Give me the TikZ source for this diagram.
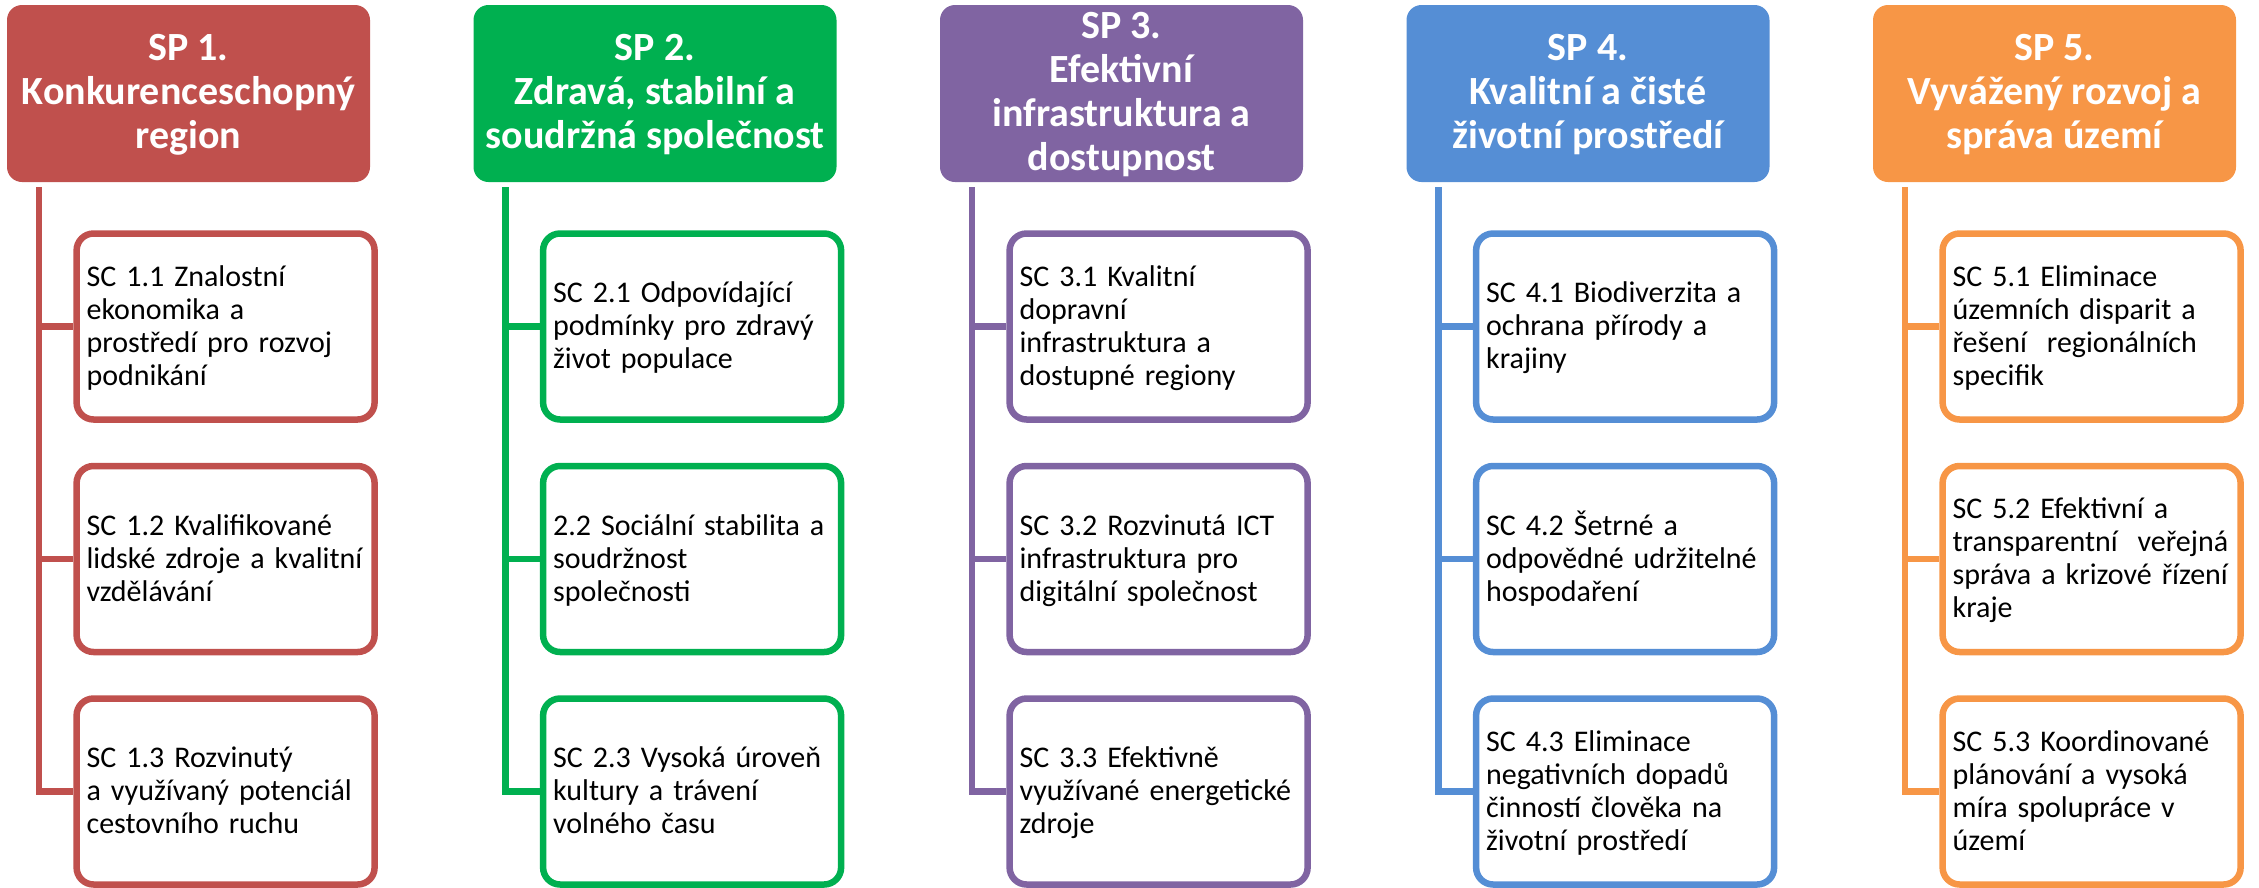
\documentclass[tikz,border=0pt]{standalone}
\usepackage{fontspec}
\setmainfont{Carlito}
\definecolor{cred}{HTML}{C0504D}
\definecolor{cgreen}{HTML}{00B050}
\definecolor{cpurple}{HTML}{8064A2}
\definecolor{cblue}{HTML}{558ED5}
\definecolor{corange}{HTML}{F79646}
\newcommand\boxtxt[1]{\rule{0pt}{27pt}#1\rule[-9pt]{0pt}{9pt}}
\newcommand\headtxt[1]{\rule{0pt}{33pt}#1\rule[-12pt]{0pt}{12pt}}
\tikzset{
  head/.style={fill=#1, draw=none, rounded corners=15pt, minimum width=363pt,
    minimum height=177pt, inner sep=0pt, align=center, text=white,
    font=\bfseries\fontsize{40}{44}\selectfont},
  sub/.style={draw=#1, line width=6.5pt, fill=white, rounded corners=17pt,
    minimum width=298pt, minimum height=186pt, text width=278pt,
    inner xsep=10pt, inner ysep=0pt, align=left,
    font=\fontsize{30}{33}\selectfont},
  conn/.style={draw=#1, line width=6.5pt},
}
\begin{document}
\begin{tikzpicture}[x=1pt,y=-1pt]
\useasboundingbox (0,0) rectangle (2259,887);
% ---------- column 1
\node[head=cred] (h1) at (188.5,93.5) {\headtxt{SP 1.\\Konkurenceschopný\\region}};
\node[sub=cred] (b11) at (225.6,326.5) {\boxtxt{SC 1.1 Znalostní\\ekonomika a\\prostředí pro rozvoj\\podnikání}};
\node[sub=cred] (b12) at (225.6,559) {\boxtxt{SC 1.2 Kvalifikované\\lidské zdroje a kvalitní\\vzdělávání}};
\node[sub=cred] (b13) at (225.6,791.5) {\boxtxt{SC 1.3 Rozvinutý\\a využívaný potenciál\\cestovního ruchu}};
\coordinate (t1) at (39,187);
\draw[conn=cred] (t1) -- (t1 |- b13.west) -- (b13.west);
\draw[conn=cred] (t1 |- b11.west) -- (b11.west);
\draw[conn=cred] (t1 |- b12.west) -- (b12.west);
% ---------- column 2
\node[head=cgreen] (h2) at (655,93.5) {\headtxt{SP 2.\\Zdravá, stabilní a\\soudržná společnost}};
\node[sub=cgreen] (b21) at (692.1,326.5) {\boxtxt{SC 2.1 Odpovídající\\podmínky pro zdravý\\život populace}};
\node[sub=cgreen] (b22) at (692.1,559) {\boxtxt{2.2 Sociální stabilita a\\soudržnost\\společnosti}};
\node[sub=cgreen] (b23) at (692.1,791.5) {\boxtxt{SC 2.3 Vysoká úroveň\\kultury a trávení\\volného času}};
\coordinate (t2) at (505.5,187);
\draw[conn=cgreen] (t2) -- (t2 |- b23.west) -- (b23.west);
\draw[conn=cgreen] (t2 |- b21.west) -- (b21.west);
\draw[conn=cgreen] (t2 |- b22.west) -- (b22.west);
% ---------- column 3
\node[head=cpurple] (h3) at (1121.5,93.5) {\headtxt{SP 3.\\Efektivní\\infrastruktura a\\dostupnost}};
\node[sub=cpurple] (b31) at (1158.6,326.5) {\boxtxt{SC 3.1 Kvalitní\\dopravní\\infrastruktura a\\dostupné regiony}};
\node[sub=cpurple] (b32) at (1158.6,559) {\boxtxt{SC 3.2 Rozvinutá ICT\\infrastruktura pro\\digitální společnost}};
\node[sub=cpurple] (b33) at (1158.6,791.5) {\boxtxt{SC 3.3 Efektivně\\využívané energetické\\zdroje}};
\coordinate (t3) at (972,187);
\draw[conn=cpurple] (t3) -- (t3 |- b33.west) -- (b33.west);
\draw[conn=cpurple] (t3 |- b31.west) -- (b31.west);
\draw[conn=cpurple] (t3 |- b32.west) -- (b32.west);
% ---------- column 4
\node[head=cblue] (h4) at (1588,93.5) {\headtxt{SP 4.\\Kvalitní a čisté\\životní prostředí}};
\node[sub=cblue] (b41) at (1625.1,326.5) {\boxtxt{SC 4.1 Biodiverzita a\\ochrana přírody a\\krajiny}};
\node[sub=cblue] (b42) at (1625.1,559) {\boxtxt{SC 4.2 Šetrné a\\odpovědné udržitelné\\hospodaření}};
\node[sub=cblue] (b43) at (1625.1,791.5) {\boxtxt{SC 4.3 Eliminace\\negativních dopadů\\činností člověka na\\životní prostředí}};
\coordinate (t4) at (1438.5,187);
\draw[conn=cblue] (t4) -- (t4 |- b43.west) -- (b43.west);
\draw[conn=cblue] (t4 |- b41.west) -- (b41.west);
\draw[conn=cblue] (t4 |- b42.west) -- (b42.west);
% ---------- column 5
\node[head=corange] (h5) at (2054.5,93.5) {\headtxt{SP 5.\\Vyvážený rozvoj a\\správa území}};
\node[sub=corange] (b51) at (2091.6,326.5) {\boxtxt{SC 5.1 Eliminace\\územních disparit a\\řešení\ \ regionálních\\specifik}};
\node[sub=corange] (b52) at (2091.6,559) {\boxtxt{SC 5.2 Efektivní a\\transparentní\ \ veřejná\\správa a krizové řízení\\kraje}};
\node[sub=corange] (b53) at (2091.6,791.5) {\boxtxt{SC 5.3 Koordinované\\plánování a vysoká\\míra spolupráce v\\území}};
\coordinate (t5) at (1905,187);
\draw[conn=corange] (t5) -- (t5 |- b53.west) -- (b53.west);
\draw[conn=corange] (t5 |- b51.west) -- (b51.west);
\draw[conn=corange] (t5 |- b52.west) -- (b52.west);
\end{tikzpicture}
\end{document}
